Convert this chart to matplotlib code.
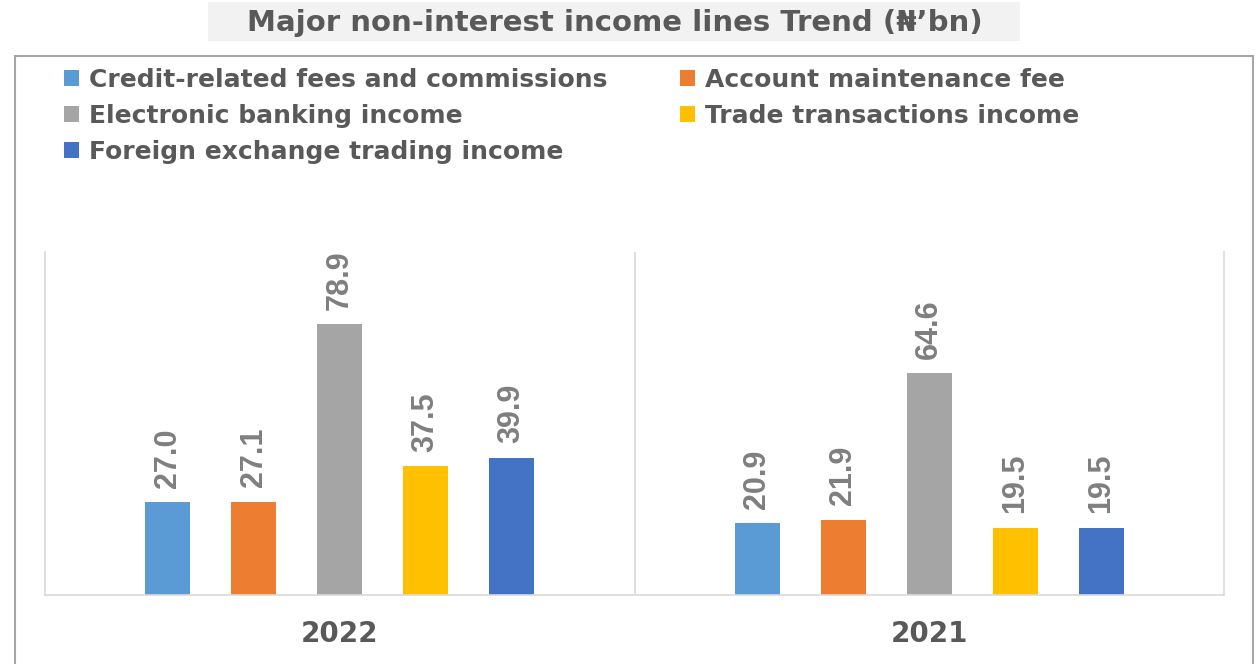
import matplotlib.pyplot as plt
from matplotlib.patches import Rectangle, Patch

years = ['2022', '2021']
series = ['Credit-related fees and commissions', 'Account maintenance fee',
          'Electronic banking income', 'Trade transactions income',
          'Foreign exchange trading income']
values = {
    'Credit-related fees and commissions': [27.0, 20.9],
    'Account maintenance fee': [27.1, 21.9],
    'Electronic banking income': [78.9, 64.6],
    'Trade transactions income': [37.5, 19.5],
    'Foreign exchange trading income': [39.9, 19.5],
}
colors = ['#5B9BD5', '#ED7D31', '#A5A5A5', '#FFC000', '#4472C4']

plt.rcParams['font.family'] = ['DejaVu Sans']
label_font = ['Liberation Sans', 'DejaVu Sans']

W, H = 1256, 664
fig = plt.figure(figsize=(W / 100, H / 100), dpi=100)

# outer chart border and title box
fig.patches.append(Rectangle((15 / W, -0.01), 1238 / W, (H - 56) / H + 0.01,
                             transform=fig.transFigure, fill=False,
                             edgecolor='#a6a6a6', linewidth=1.5))
fig.patches.append(Rectangle((208 / W, 1 - 41 / H), 812 / W, 39 / H,
                             transform=fig.transFigure, facecolor='#f2f2f2',
                             edgecolor='none'))
fig.text(615 / W, 1 - 23 / H, 'Major non-interest income lines Trend (₦’bn)',
         ha='center', va='center', fontsize=21, fontweight='bold', color='#595959')

ax = fig.add_axes([45 / W, 1 - 595 / H, 1179 / W, 343 / H])

x = range(len(years))
width = 0.076
step = 0.1458
for i, name in enumerate(series):
    off = (i - 2) * step
    bars = ax.bar([k + off for k in x], values[name], width=width, color=colors[i], label=name)
    for b, v in zip(bars, values[name]):
        ax.text(b.get_x() + b.get_width() / 2, v + 4.3, f'{v:.1f}', rotation=90,
                ha='center', va='bottom', fontsize=22, fontweight='bold',
                color='#7f7f7f', family=label_font)

ax.set_xlim(-0.5, 1.5)
ax.set_ylim(0, 100)
ax.axvline(0.5, color='#d9d9d9', linewidth=1.2)
for s in ['left', 'right', 'bottom']:
    ax.spines[s].set_color('#d9d9d9')
    ax.spines[s].set_linewidth(1.2)
ax.spines['top'].set_visible(False)
ax.set_yticks([])
ax.set_xticks(list(x))
ax.set_xticklabels(years, fontsize=20, fontweight='bold', color='#595959')
ax.tick_params(axis='x', length=0, pad=18)

# legend, row-major order like the original
order = [0, 2, 4, 1, 3]
handles = [Patch(facecolor=colors[i], label=series[i]) for i in order]
fig.legend(handles=handles, ncol=2, loc='upper left', bbox_to_anchor=(64 / W, 1 - 68 / H),
           frameon=False, borderpad=0, borderaxespad=0,
           prop={'weight': 'bold', 'size': 18}, labelcolor='#595959',
           handlelength=0.6, handleheight=0.6, handletextpad=0.4,
           columnspacing=2.92, labelspacing=0.47)

fig.savefig('out.png', dpi=100)
